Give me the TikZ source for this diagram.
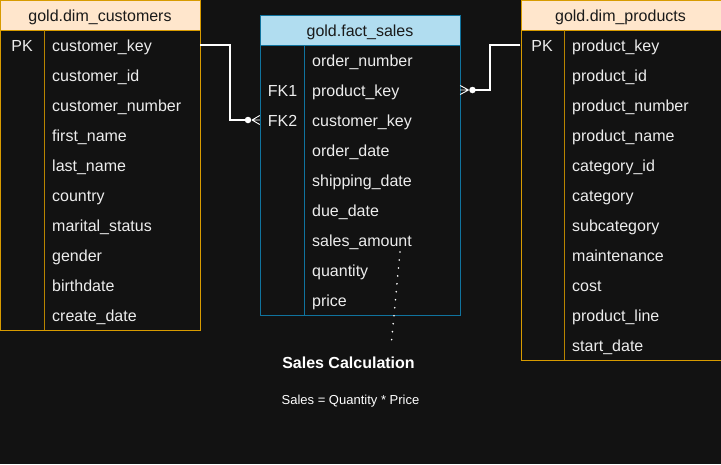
\documentclass[tikz,border=0pt]{standalone}
\usepackage{fontspec}
\setmainfont{Liberation Sans}
\definecolor{bgc}{HTML}{121212}
\definecolor{orbd}{HTML}{D79B00}
\definecolor{ordiv}{HTML}{B88400}
\definecolor{orfill}{HTML}{FFE6CC}
\definecolor{blbd}{HTML}{10739E}
\definecolor{blfill}{HTML}{B1DDF0}
\definecolor{hdtxt}{HTML}{1A1A1A}
\definecolor{rwtxt}{HTML}{EDEDED}
\tikzset{
  tabO/.style={draw=orbd, line width=1.2pt, inner sep=0pt, anchor=north west},
  tabB/.style={draw=blbd, line width=1.2pt, inner sep=0pt, anchor=north west},
  hdrO/.style={tabO, fill=orfill},
  hdrB/.style={tabB, fill=blfill},
  hdrtxt/.style={font=\fontsize{16}{19}\selectfont, text=hdtxt, anchor=base, inner sep=0pt},
  rowtxt/.style={font=\fontsize{16}{19}\selectfont, text=rwtxt, anchor=base west, inner sep=0pt},
  keytxt/.style={font=\fontsize{16}{19}\selectfont, text=rwtxt, anchor=base, inner sep=0pt},
  rowbox/.style={inner sep=0pt, minimum height=30pt},
  divO/.style={draw=ordiv, line width=1pt},
  divB/.style={draw=blbd, line width=1pt},
  rel/.style={draw=white, line width=1.2pt},
  foot/.style={draw=white, line width=0.9pt},
  dotc/.style={fill=white, circle, inner sep=0pt, minimum size=6.5pt},
  dotline/.style={draw=white, line width=1.8pt, line cap=round, dash pattern=on 0pt off 8pt},
}
\begin{document}
\begin{tikzpicture}[x=1pt,y=-1pt]
\fill[bgc] (0,0) rectangle (721,464);
\useasboundingbox (0,0) rectangle (721,464);

% ---------- gold.dim_customers ----------
\node[tabO, minimum width=200pt, minimum height=330pt] (cust) at (0,0) {};
\node[hdrO, minimum width=200pt, minimum height=30pt] (custh) at (0,0) {};
\node[hdrtxt] (custt) at (100,21.8) {gold.dim\_customers};
\draw[divO] (44,30) -- (44,330);
\foreach \t [count=\i] in {customer\_key, customer\_id, customer\_number, first\_name, last\_name, country, marital\_status, gender, birthdate, create\_date}{
  \node[rowbox, minimum width=200pt] (cust-\i) at (100,15+30*\i) {};
  \node[rowtxt] (custx-\i) at (52,21.8+30*\i) {\t};
}
\node[keytxt] (custpk) at (22,51.8) {PK};

% ---------- gold.fact_sales ----------
\node[tabB, minimum width=200pt, minimum height=300pt] (fact) at (260,15) {};
\node[hdrB, minimum width=200pt, minimum height=30pt] (facth) at (260,15) {};
\node[hdrtxt] (factt) at (360,36.8) {gold.fact\_sales};
\draw[divB] (304.5,45) -- (304.5,315);
\foreach \t [count=\i] in {order\_number, product\_key, customer\_key, order\_date, shipping\_date, due\_date, sales\_amount, quantity, price}{
  \node[rowbox, minimum width=200pt] (fact-\i) at (360,30+30*\i) {};
  \node[rowtxt] (factx-\i) at (312,36.8+30*\i) {\t};
}
\node[keytxt] (factfk1) at (282.5,96.8) {FK1};
\node[keytxt] (factfk2) at (282.5,126.8) {FK2};

% ---------- gold.dim_products ----------
\node[tabO, minimum width=200pt, minimum height=360pt] (prod) at (520.5,0) {};
\node[hdrO, minimum width=200pt, minimum height=30pt] (prodh) at (520.5,0) {};
\node[hdrtxt] (prodt) at (620.5,21.8) {gold.dim\_products};
\draw[divO] (564,30) -- (564,360);
\foreach \t [count=\i] in {product\_key, product\_id, product\_number, product\_name, category\_id, category, subcategory, maintenance, cost, product\_line, start\_date}{
  \node[rowbox, minimum width=200pt] (prod-\i) at (620.5,15+30*\i) {};
  \node[rowtxt] (prodx-\i) at (572,21.8+30*\i) {\t};
}
\node[keytxt] (prodpk) at (542,51.8) {PK};

% ---------- relationships ----------
% customers -> fact (FK2)
\coordinate (lc) at (248,120);
\coordinate (lf) at (252,120);
\draw[rel] (cust-1.east) -- (230,45) |- (lc);
\node[dotc] (lcd) at (lc) {};
\draw[foot] (lf) -- (fact-3.west) (lf) -- ([yshift=-4.5pt]fact-3.west) (lf) -- ([yshift=4.5pt]fact-3.west);

% products -> fact (FK1)
\coordinate (rc) at (472.5,90);
\coordinate (rf) at (468.5,90);
\draw[rel] (prod-1.west) -- (490,45) |- (rc);
\node[dotc] (rcd) at (rc) {};
\draw[foot] (rf) -- (fact-2.east) (rf) -- ([yshift=-4.5pt]fact-2.east) (rf) -- ([yshift=4.5pt]fact-2.east);

% ---------- note ----------
\node[font=\fontsize{16}{19}\selectfont\bfseries, text=white, anchor=base, inner sep=0pt] (calc) at (348.5,368.5) {Sales Calculation};
\node[font=\fontsize{13}{16}\selectfont, text=white, anchor=base, inner sep=0pt] (form) at (350.5,404) {Sales = Quantity * Price};
\coordinate (ds) at (400,252);
\coordinate (de) at (391,347);
\draw[dotline] (ds) -- (de);
\end{tikzpicture}
\end{document}
